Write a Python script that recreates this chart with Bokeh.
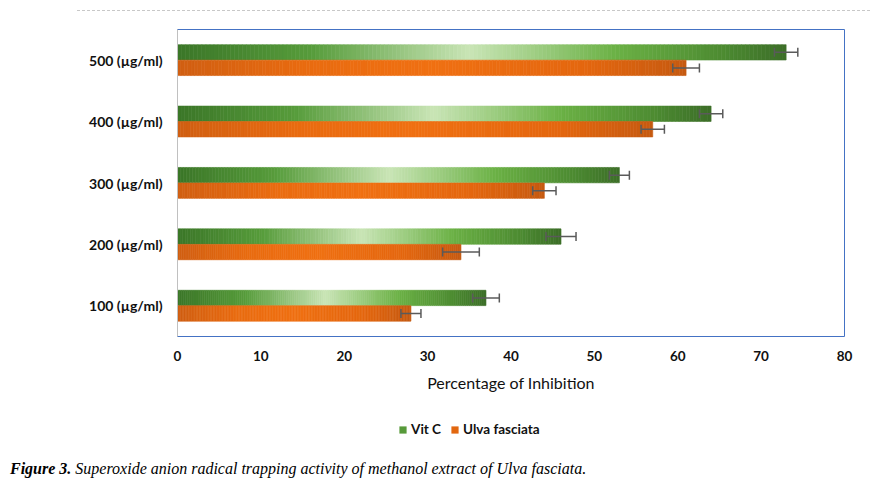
from bokeh.plotting import figure
from bokeh.layouts import column
from bokeh.models import (ColumnDataSource, FactorRange, Range1d, FixedTicker, Whisker, TeeHead,
                          Legend, LegendItem, Div)
from bokeh.transform import dodge
from bokeh.embed import file_html
from bokeh.resources import INLINE

# ---------------- data ----------------
categories = ["100 (µg/ml)", "200 (µg/ml)", "300 (µg/ml)", "400 (µg/ml)", "500 (µg/ml)"]
vitc = [37, 46, 53, 64, 73]
vitc_err = [1.6, 1.8, 1.2, 1.4, 1.4]
ulva = [28, 34, 44, 57, 61]
ulva_err = [1.2, 2.2, 1.4, 1.4, 1.6]
series_names = ["Vit C", "Ulva fasciata"]
x_ticks = [0, 10, 20, 30, 40, 50, 60, 70, 80]
x_title = "Percentage of Inhibition"
caption_bold = "Figure 3."
caption_rest = "Superoxide anion radical trapping activity of methanol extract of Ulva fasciata."

# ---------------- styling ----------------
W = 866
green_stops = [(0.0, "#3b7628"), (0.22, "#579c3b"), (0.48, "#c9e5b6"), (0.72, "#6bb145"),
               (0.9, "#4c8a31"), (1.0, "#3c6e28")]
orange_stops = [(0.0, "#d05f12"), (0.25, "#e96b10"), (0.5, "#f07012"), (0.8, "#e4670f"),
                (1.0, "#c65a10")]
legend_colors = ["#579a3a", "#e2670f"]
N_SLICES = 150
FONT = "Lato"


def hex_to_rgb(h):
    h = h.lstrip("#")
    return tuple(int(h[i:i + 2], 16) for i in (0, 2, 4))


def interp(stops, t):
    for (t0, c0), (t1, c1) in zip(stops[:-1], stops[1:]):
        if t0 <= t <= t1:
            f = (t - t0) / (t1 - t0) if t1 > t0 else 0
            a, b = hex_to_rgb(c0), hex_to_rgb(c1)
            r = [round(a[k] + (b[k] - a[k]) * f) for k in range(3)]
            return "#%02x%02x%02x" % tuple(r)
    return stops[-1][1]


def gradient_source(cats, vals, stops, n=N_SLICES):
    d = dict(cat=[], left=[], right=[], color=[])
    for c, v in zip(cats, vals):
        for i in range(n):
            d["cat"].append(c)
            d["left"].append(v * i / n)
            d["right"].append(v * (i + 1) / n)
            d["color"].append(interp(stops, (i + 0.5) / n))
    return ColumnDataSource(d)


# ---------------- top dashed rule ----------------
top_rule = Div(text="", width=793, height=1, margin=(10, 0, 0, 77),
               styles={"border-top": "1px dashed #c8c8c8"})

# ---------------- main chart ----------------
p = figure(width=W, height=395,
           y_range=FactorRange(*categories, range_padding=0),
           x_range=Range1d(0, 80),
           output_backend="svg", toolbar_location=None,
           min_border_left=177, min_border_right=22, min_border_top=18, min_border_bottom=70)

GREEN_OFF = 0.128
ORANGE_OFF = -0.125
BAR_H = 0.25

gsrc = gradient_source(categories, vitc, green_stops)
osrc = gradient_source(categories, ulva, orange_stops)

p.hbar(y=dodge("cat", GREEN_OFF, range=p.y_range), left="left", right="right", height=BAR_H,
       fill_color="color", line_color="color", line_width=0.6, source=gsrc)
p.hbar(y=dodge("cat", ORANGE_OFF, range=p.y_range), left="left", right="right", height=BAR_H,
       fill_color="color", line_color="color", line_width=0.6, source=osrc)

err_color = "#5a5a5a"
for vals, errs, off in [(vitc, vitc_err, GREEN_OFF), (ulva, ulva_err, ORANGE_OFF)]:
    es = ColumnDataSource(dict(cat=categories,
                               lower=[v - e for v, e in zip(vals, errs)],
                               upper=[v + e for v, e in zip(vals, errs)]))
    w = Whisker(base=dodge("cat", off, range=p.y_range), lower="lower", upper="upper",
                dimension="width", source=es, line_color=err_color, line_width=1.5,
                upper_head=TeeHead(size=9, line_color=err_color, line_width=1.5),
                lower_head=TeeHead(size=9, line_color=err_color, line_width=1.5),
                level="overlay")
    p.add_layout(w)

p.xgrid.grid_line_color = None
p.ygrid.grid_line_color = None
p.outline_line_color = "#4472c4"
p.outline_line_width = 1

p.xaxis.ticker = FixedTicker(ticks=x_ticks)
p.xaxis.axis_line_color = None
p.xaxis.major_tick_line_color = None
p.xaxis.minor_tick_line_color = None
p.xaxis.major_label_text_font = FONT
p.xaxis.major_label_text_font_style = "bold"
p.xaxis.major_label_text_font_size = "13.5px"
p.xaxis.major_label_text_color = "#111111"
p.xaxis.major_label_standoff = 8
p.xaxis.axis_label = x_title
p.xaxis.axis_label_text_font = FONT
p.xaxis.axis_label_text_font_style = "normal"
p.xaxis.axis_label_text_font_size = "16px"
p.xaxis.axis_label_text_color = "#111111"
p.xaxis.axis_label_standoff = 9

p.yaxis.axis_line_color = "#c0c0c0"
p.yaxis.major_tick_line_color = None
p.yaxis.minor_tick_line_color = None
p.yaxis.major_label_text_font = FONT
p.yaxis.major_label_text_font_style = "bold"
p.yaxis.major_label_text_font_size = "14px"
p.yaxis.major_label_text_color = "#111111"
p.yaxis.major_label_standoff = 9

# ---------------- legend strip ----------------
# zero-height, off-range bars: they carry the series styles for the legend but draw nothing
pl = figure(width=W, height=40, y_range=FactorRange(*categories), x_range=Range1d(100, 180),
            output_backend="svg", toolbar_location=None,
            x_axis_location=None, y_axis_location=None,
            min_border_left=0, min_border_right=0, min_border_top=0, min_border_bottom=0)
pl.outline_line_color = None
pl.xgrid.visible = False
pl.ygrid.visible = False
lsrc = ColumnDataSource(dict(cat=categories, vitc=vitc, ulva=ulva))
lg = pl.hbar(y="cat", left=0, right="vitc", height=0, source=lsrc,
             fill_color=legend_colors[0], line_color=None)
lo = pl.hbar(y="cat", left=0, right="ulva", height=0, source=lsrc,
             fill_color=legend_colors[1], line_color=None)
legend = Legend(items=[LegendItem(label=series_names[0], renderers=[lg]),
                       LegendItem(label=series_names[1], renderers=[lo])],
                location=(221, 9), orientation="horizontal",
                glyph_width=9, glyph_height=9, label_standoff=4, spacing=9,
                padding=0, margin=0, border_line_color=None, background_fill_alpha=0,
                label_text_font=FONT, label_text_font_style="bold",
                label_text_font_size="13.5px", label_text_color="#111111")
pl.add_layout(legend)

# ---------------- caption ----------------
caption = Div(text="<b>%s</b> %s" % (caption_bold, caption_rest), width=700, height=20,
              margin=(14, 0, 0, 10),
              styles={"font-family": "'Liberation Serif', serif", "font-style": "italic",
                      "font-size": "16px", "color": "#000000", "white-space": "nowrap",
                      "line-height": "18px"})

layout = column(top_rule, p, pl, caption, spacing=0)
open("out.html", "w").write(file_html(layout, INLINE))
